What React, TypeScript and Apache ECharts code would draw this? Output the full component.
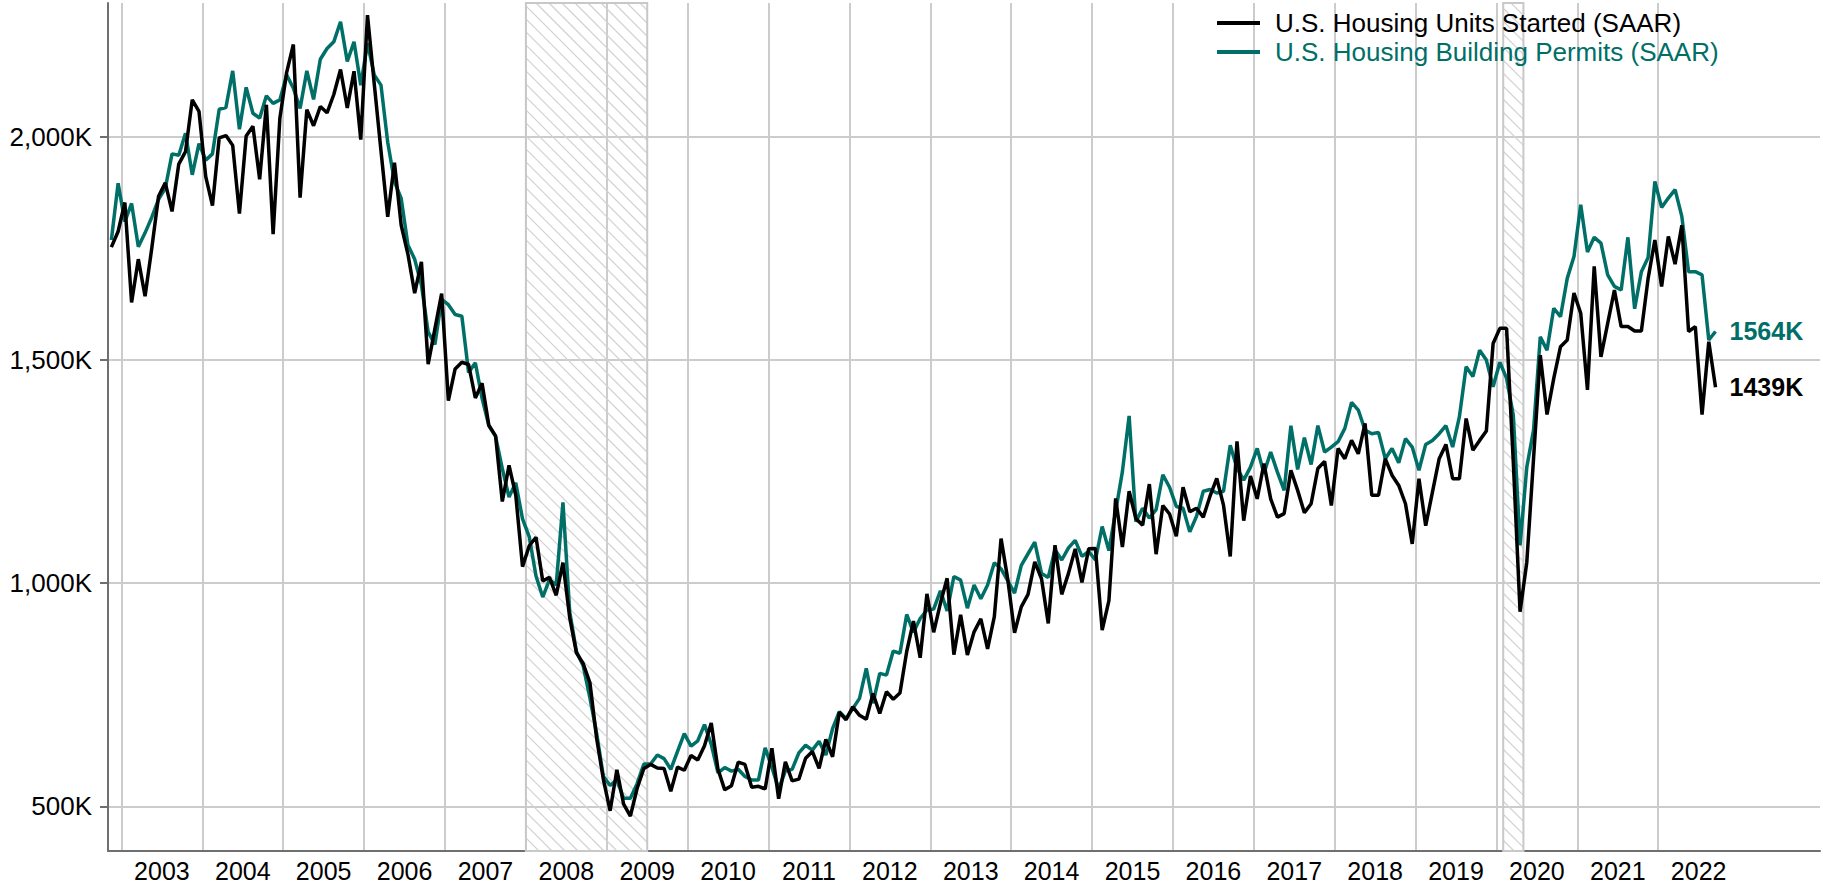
import React, { useEffect, useRef } from 'react';
import * as echarts from 'echarts';

// First month of data: November 2002, monthly through September 2022
const START_YEAR = 2002;
const START_MONTH = 11;

// U.S. Housing Units Started (SAAR, thousands)
const housingStarts: number[] = [
  1753, 1788,
  1853, 1629, 1726, 1643, 1751, 1867, 1897, 1833, 1939, 1967, 2083, 2057,
  1911, 1846, 1998, 2003, 1981, 1828, 2002, 2024, 1905, 2072, 1782, 2042,
  2144, 2207, 1864, 2061, 2025, 2068, 2054, 2095, 2151, 2065, 2147, 1994,
  2273, 2119, 1969, 1821, 1942, 1802, 1737, 1650, 1720, 1491, 1570, 1649,
  1409, 1480, 1495, 1490, 1415, 1448, 1354, 1330, 1183, 1264, 1197, 1037,
  1084, 1103, 1005, 1013, 973, 1046, 923, 844, 820, 777, 652, 560,
  490, 582, 505, 478, 540, 585, 594, 586, 585, 534, 588, 581,
  614, 604, 636, 687, 583, 537, 546, 599, 594, 543, 545, 539,
  630, 517, 600, 557, 561, 608, 623, 585, 650, 611, 711, 694,
  723, 704, 695, 753, 708, 757, 740, 754, 847, 915, 833, 976,
  890, 955, 1011, 840, 929, 839, 891, 920, 853, 925, 1100, 1008,
  889, 947, 975, 1048, 1010, 910, 1085, 975, 1022, 1077, 1002, 1077,
  1078, 895, 961, 1190, 1081, 1206, 1145, 1130, 1222, 1065, 1174, 1155,
  1105, 1215, 1160, 1168, 1148, 1195, 1235, 1175, 1060, 1318, 1140, 1240,
  1189, 1268, 1189, 1148, 1156, 1253, 1208, 1158, 1178, 1257, 1273, 1174,
  1302, 1279, 1320, 1290, 1358, 1197, 1197, 1279, 1242, 1219, 1178, 1088,
  1234, 1129, 1204, 1279, 1311, 1234, 1234, 1369, 1298, 1320, 1341, 1537,
  1571, 1571, 1270, 936, 1047, 1279, 1511, 1378, 1459, 1530, 1545, 1650,
  1605, 1433, 1710, 1507, 1582, 1657, 1575, 1575, 1565, 1565, 1683, 1769,
  1665, 1777, 1715, 1802, 1564, 1575, 1378, 1541, 1439,
];

// U.S. Housing Building Permits (SAAR, thousands)
const buildingPermits: number[] = [
  1769, 1896,
  1810, 1851, 1754, 1785, 1820, 1860, 1885, 1962, 1959, 2008, 1915, 1985,
  1948, 1962, 2062, 2066, 2148, 2017, 2111, 2053, 2042, 2092, 2075, 2083,
  2139, 2109, 2064, 2148, 2084, 2174, 2198, 2213, 2258, 2169, 2213, 2116,
  2210, 2139, 2116, 1988, 1900, 1862, 1758, 1726, 1668, 1563, 1535, 1636,
  1624, 1602, 1598, 1472, 1494, 1414, 1353, 1329, 1257, 1193, 1225, 1144,
  1104, 1016, 969, 1008, 996, 1181, 936, 847, 815, 743, 663, 567,
  547, 559, 518, 518, 551, 595, 595, 615, 607, 583, 623, 663,
  635, 647, 683, 639, 575, 587, 579, 583, 567, 559, 559, 631,
  587, 539, 579, 583, 620, 637, 626, 646, 615, 674, 712, 697,
  719, 742, 809, 731, 798, 794, 848, 843, 930, 890, 921, 940,
  942, 983, 938, 1015, 1007, 944, 996, 965, 996, 1046, 1032, 1005,
  978, 1040, 1066, 1092, 1022, 1013, 1075, 1052, 1079, 1096, 1060, 1071,
  1052, 1127, 1073, 1161, 1250, 1375, 1138, 1168, 1146, 1165, 1243, 1215,
  1172, 1168, 1115, 1150, 1206, 1210, 1202, 1206, 1309, 1258, 1231, 1260,
  1302, 1246, 1294, 1249, 1208, 1353, 1255, 1326, 1266, 1353, 1294, 1305,
  1317, 1347, 1405, 1388, 1343, 1335, 1338, 1279, 1302, 1270, 1324, 1305,
  1253, 1311, 1320, 1335, 1353, 1305, 1373, 1485, 1463, 1522, 1500, 1440,
  1495, 1459, 1376, 1085, 1260, 1343, 1552, 1522, 1616, 1597, 1683, 1732,
  1848, 1742, 1775, 1762, 1691, 1665, 1657, 1775, 1615, 1698, 1730, 1900,
  1842, 1863, 1882, 1822, 1698, 1698, 1691, 1545, 1564,
];

const yearTicks: number[] = [
  2003, 2004, 2005, 2006, 2007, 2008, 2009, 2010, 2011, 2012,
  2013, 2014, 2015, 2016, 2017, 2018, 2019, 2020, 2021, 2022,
];
const valueTicks: number[] = [500, 1000, 1500, 2000];

// Recession periods as [start, end] in fractional years
const recessions: number[][] = [
  [2008.0, 2009.5],
  [2020 + 1 / 12, 2020 + 4 / 12],
];

const SERIES_STARTS = 'U.S. Housing Units Started (SAAR)';
const SERIES_PERMITS = 'U.S. Housing Building Permits (SAAR)';
const BLACK = '#000000';
const TEAL = '#006f68';
const FONT = '"Liberation Sans", Arial, Helvetica, sans-serif';
const X_MIN = START_YEAR + (START_MONTH - 1) / 12;
const X_MAX = 2024;
const Y_MIN = 400;
const Y_MAX = 2300;

// month i -> fractional year (mid-month position)
const monthPos = (i: number) => START_YEAR + (START_MONTH - 1 + i + 0.5) / 12;

export default function App() {
  const ref = useRef<HTMLDivElement>(null);

  useEffect(() => {
    if (!ref.current) return;
    const chart = echarts.init(ref.current, undefined, { renderer: 'svg' });

    const startsData = housingStarts.map((v, i) => [monthPos(i), v]);
    const permitsData = buildingPermits.map((v, i) => [monthPos(i), v]);

    const endLabel = (color: string) => ({
      show: true,
      formatter: (p: any) => `${p.value[1]}K`,
      color,
      fontFamily: FONT,
      fontSize: 25,
      fontWeight: 'bold',
      distance: 14,
    });

    const option: any = {
      animation: false,
      backgroundColor: '#ffffff',
      textStyle: { fontFamily: FONT },
      grid: {
        left: 108,
        right: 3,
        top: 3,
        bottom: 35,
        containLabel: false,
        outerBoundsMode: 'none',
      },
      legend: {
        show: true,
        orient: 'vertical',
        left: 1212,
        top: 5,
        icon: 'rect',
        itemWidth: 43,
        itemHeight: 4,
        itemGap: 3,
        selectedMode: false,
        textStyle: { fontSize: 26, fontFamily: FONT, padding: [0, 0, 0, 10] },
        data: [
          { name: SERIES_STARTS, textStyle: { color: BLACK } },
          { name: SERIES_PERMITS, textStyle: { color: TEAL } },
        ],
      },
      xAxis: {
        type: 'value',
        min: X_MIN,
        max: X_MAX,
        axisLine: { show: true, lineStyle: { color: '#6f6f6f', width: 2 } },
        axisTick: { show: false, customValues: yearTicks },
        axisLabel: {
          show: true,
          customValues: yearTicks.map((y) => y + 0.5),
          formatter: (v: number) => String(Math.floor(v + 1e-6)),
          fontSize: 25,
          lineHeight: 20,
          fontFamily: FONT,
          color: '#000',
          margin: 10,
        },
        splitLine: { show: true, lineStyle: { color: '#cccccc', width: 2 } },
      },
      yAxis: {
        type: 'value',
        min: Y_MIN,
        max: Y_MAX,
        axisLine: { show: true, lineStyle: { color: '#6f6f6f', width: 2 } },
        axisTick: {
          show: true,
          length: 8,
          customValues: valueTicks,
          lineStyle: { color: '#6f6f6f', width: 2 },
        },
        axisLabel: {
          show: true,
          customValues: valueTicks,
          formatter: (v: number) => `${v.toLocaleString('en-US')}K`,
          fontSize: 26,
          fontFamily: FONT,
          color: '#000',
          margin: 16,
        },
        splitLine: { show: true, lineStyle: { color: '#cccccc', width: 2 } },
      },
      series: [
        {
          type: 'custom',
          name: 'recessions',
          silent: true,
          z: 1,
          data: recessions.map((r) => [r[0], r[1], Y_MIN]),
          encode: { x: [0, 1], y: 2 },
          renderItem: (_params: any, api: any) => {
            const p0 = api.coord([api.value(0), Y_MAX]);
            const p1 = api.coord([api.value(1), Y_MIN]);
            const left = p0[0];
            const top = p0[1];
            const right = p1[0];
            const bottom = p1[1];
            const step = 13;
            const children: any[] = [];
            const bStart = Math.floor((top - right) / step) * step;
            for (let b = bStart; b <= bottom - left; b += step) {
              const xa = Math.max(left, top - b);
              const xb = Math.min(right, bottom - b);
              if (xb > xa) {
                children.push({
                  type: 'line',
                  shape: { x1: xa, y1: xa + b, x2: xb, y2: xb + b },
                  style: { stroke: '#d2d2d2', lineWidth: 1.2 },
                });
              }
            }
            children.push({
              type: 'rect',
              shape: { x: left, y: top, width: right - left, height: bottom - top },
              style: { fill: 'none', stroke: '#c8c8c8', lineWidth: 2 },
            });
            return { type: 'group', children };
          },
        },
        {
          type: 'line',
          name: SERIES_STARTS,
          data: startsData,
          showSymbol: false,
          symbol: 'none',
          z: 4,
          color: BLACK,
          itemStyle: { color: BLACK },
          lineStyle: { color: BLACK, width: 3.5 },
          emphasis: { disabled: true },
          endLabel: endLabel(BLACK),
        },
        {
          type: 'line',
          name: SERIES_PERMITS,
          data: permitsData,
          showSymbol: false,
          symbol: 'none',
          z: 3,
          color: TEAL,
          itemStyle: { color: TEAL },
          lineStyle: { color: TEAL, width: 3.5 },
          emphasis: { disabled: true },
          endLabel: endLabel(TEAL),
        },
      ],
    };

    chart.setOption(option);
    return () => {
      chart.dispose();
    };
  }, []);

  return (
    <div
      ref={ref}
      style={{ position: 'fixed', left: 0, top: 0, width: 1823, height: 886, background: '#fff' }}
    />
  );
}
